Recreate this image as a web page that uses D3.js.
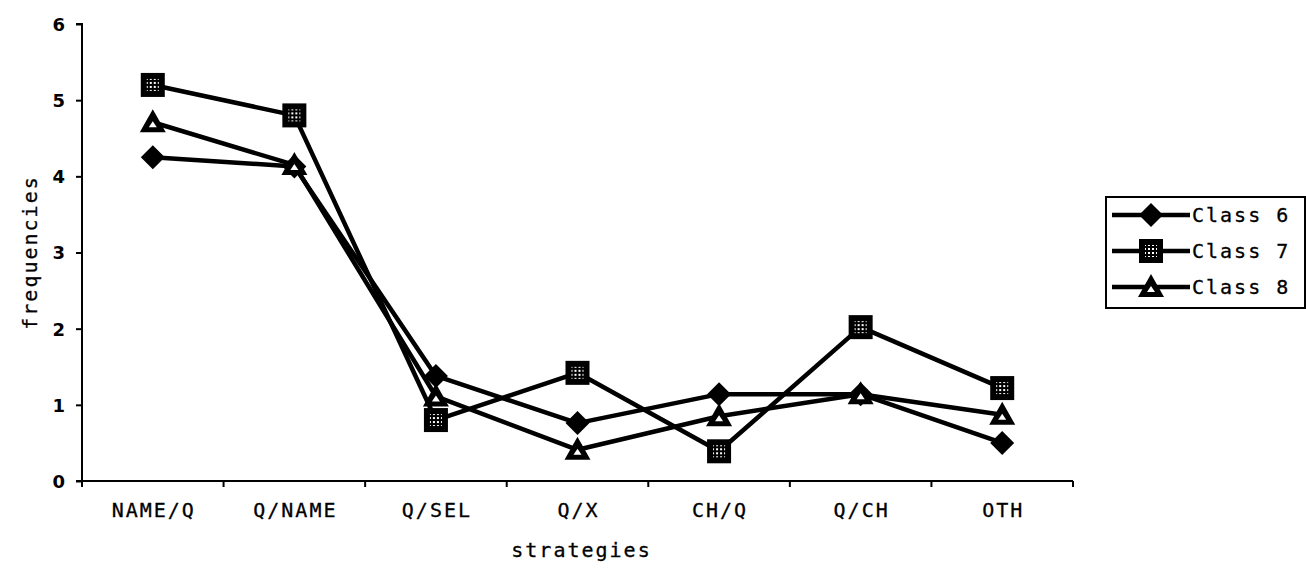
<!DOCTYPE html>
<html><head><meta charset="utf-8">
<script src="https://cdn.jsdelivr.net/npm/d3@7"></script>
<style>
html,body{margin:0;padding:0;background:#fff;}
svg{display:block;}
text{font-family:"DejaVu Sans Mono",monospace;fill:#000;}
</style></head>
<body>
<svg id="chart" width="1306" height="568"></svg>
<script>
const categories = ["NAME/Q","Q/NAME","Q/SEL","Q/X","CH/Q","Q/CH","OTH"];
const class6 = [4.25, 4.13, 1.38, 0.76, 1.14, 1.14, 0.50];
const class7 = [5.20, 4.80, 0.80, 1.42, 0.39, 2.02, 1.22];
const class8 = [4.71, 4.15, 1.11, 0.41, 0.85, 1.14, 0.87];
const seriesNames = ["Class 6","Class 7","Class 8"];
const yTicks = [0,1,2,3,4,5,6];
const xTitle = "strategies";
const yTitle = "frequencies";

(function(){
const svg = d3.select("#chart");
const pl = 82, pr = 1073, pt = 24, pb = 481;
const FS = "20px", LS = "2px";

const x = d3.scaleBand().domain(categories).range([pl, pr]).padding(0);
const y = d3.scaleLinear().domain([0, 6]).range([pb, pt]);

const defs = svg.append("defs");
const pat = defs.append("pattern").attr("id","dots").attr("width",4).attr("height",4)
  .attr("patternUnits","userSpaceOnUse");
pat.append("rect").attr("width",4).attr("height",4).attr("fill","#000");
pat.append("rect").attr("x",1).attr("y",1).attr("width",2).attr("height",2).attr("fill","#fff");

function styleText(sel){
  sel.style("font-size",FS).style("letter-spacing",LS)
     .attr("stroke","#000").attr("stroke-width",0.3);
}

// y axis
const yAxis = svg.append("g").attr("transform",`translate(${pl},0)`)
  .call(d3.axisLeft(y).tickValues(yTicks).tickFormat(d3.format("d")).tickSize(6).tickPadding(11));
yAxis.select(".domain").attr("stroke","#000").attr("stroke-width",2).attr("d",`M-6,${pt}H0V${pb}H-6`);
yAxis.selectAll(".tick line").attr("stroke","#000").attr("stroke-width",2);
yAxis.selectAll(".tick text").style("font-size","18px").style("font-family","'DejaVu Sans'")
  .style("font-weight","bold").attr("dy","0.36em");

// x axis
const xAxis = svg.append("g").attr("transform",`translate(0,${pb})`)
  .call(d3.axisBottom(x).tickSize(0).tickPadding(22));
xAxis.select(".domain").attr("stroke","#000").attr("stroke-width",2).attr("d",`M${pl},0H${pr}`);
xAxis.selectAll(".tick text").call(styleText).attr("dx","1px");
const bounds = categories.map(c => x(c)).concat([x(categories[categories.length-1]) + x.bandwidth()]);
xAxis.selectAll(".btick").data(bounds).enter().append("line")
  .attr("x1", d=>d).attr("x2", d=>d).attr("y1",0).attr("y2",6)
  .attr("stroke","#000").attr("stroke-width",2);

// titles
svg.append("text").attr("x",(pl+pr)/2 + 4).attr("y",557).attr("text-anchor","middle")
  .call(styleText).text(xTitle);
svg.append("text").attr("transform",`translate(37,${(pt+pb)/2}) rotate(-90)`)
  .attr("text-anchor","middle").call(styleText).text(yTitle);

const cx = d => x(d) + x.bandwidth()/2;
const line = d3.line().x(d => cx(d.c)).y(d => y(d.v));

function marker(g, type){
  if(type === 0){
    g.append("path").attr("d","M0,-12L12,0L0,12L-12,0Z").attr("fill","#000");
  } else if(type === 1){
    g.append("rect").attr("x",-12).attr("y",-12).attr("width",24).attr("height",24).attr("fill","#000");
    g.append("rect").attr("x",-6).attr("y",-6).attr("width",12).attr("height",12).attr("fill","url(#dots)");
  } else {
    g.append("path").attr("d","M0,-13L13,10L-13,10Z").attr("fill","#000");
    g.append("path").attr("d","M0,-1L4,5L-4,5Z").attr("fill","#fff");
  }
}

const allSeries = [class6, class7, class8];
allSeries.forEach((vals) => {
  const data = categories.map((c, j) => ({c, v: vals[j]}));
  svg.append("path").datum(data).attr("d", line).attr("fill","none")
    .attr("stroke","#000").attr("stroke-width",4.5).attr("stroke-linejoin","round");
});
allSeries.forEach((vals, i) => {
  categories.forEach((c, j) => {
    const g = svg.append("g").attr("transform",`translate(${cx(c)},${y(vals[j])})`);
    marker(g, i);
  });
});

// legend
const lg = svg.append("g");
lg.append("rect").attr("x",1106).attr("y",197).attr("width",199).attr("height",111)
  .attr("fill","#fff").attr("stroke","#000").attr("stroke-width",2);
const ly = [215, 251, 287];
seriesNames.forEach((name, i) => {
  lg.append("line").attr("x1",1112).attr("x2",1190).attr("y1",ly[i]).attr("y2",ly[i])
    .attr("stroke","#000").attr("stroke-width",4.5);
  const g = lg.append("g").attr("transform",`translate(1151,${ly[i]})`);
  marker(g, i);
  lg.append("text").attr("x",1192).attr("y",ly[i]+7).call(styleText).text(name);
});
})();
</script>
</body></html>
